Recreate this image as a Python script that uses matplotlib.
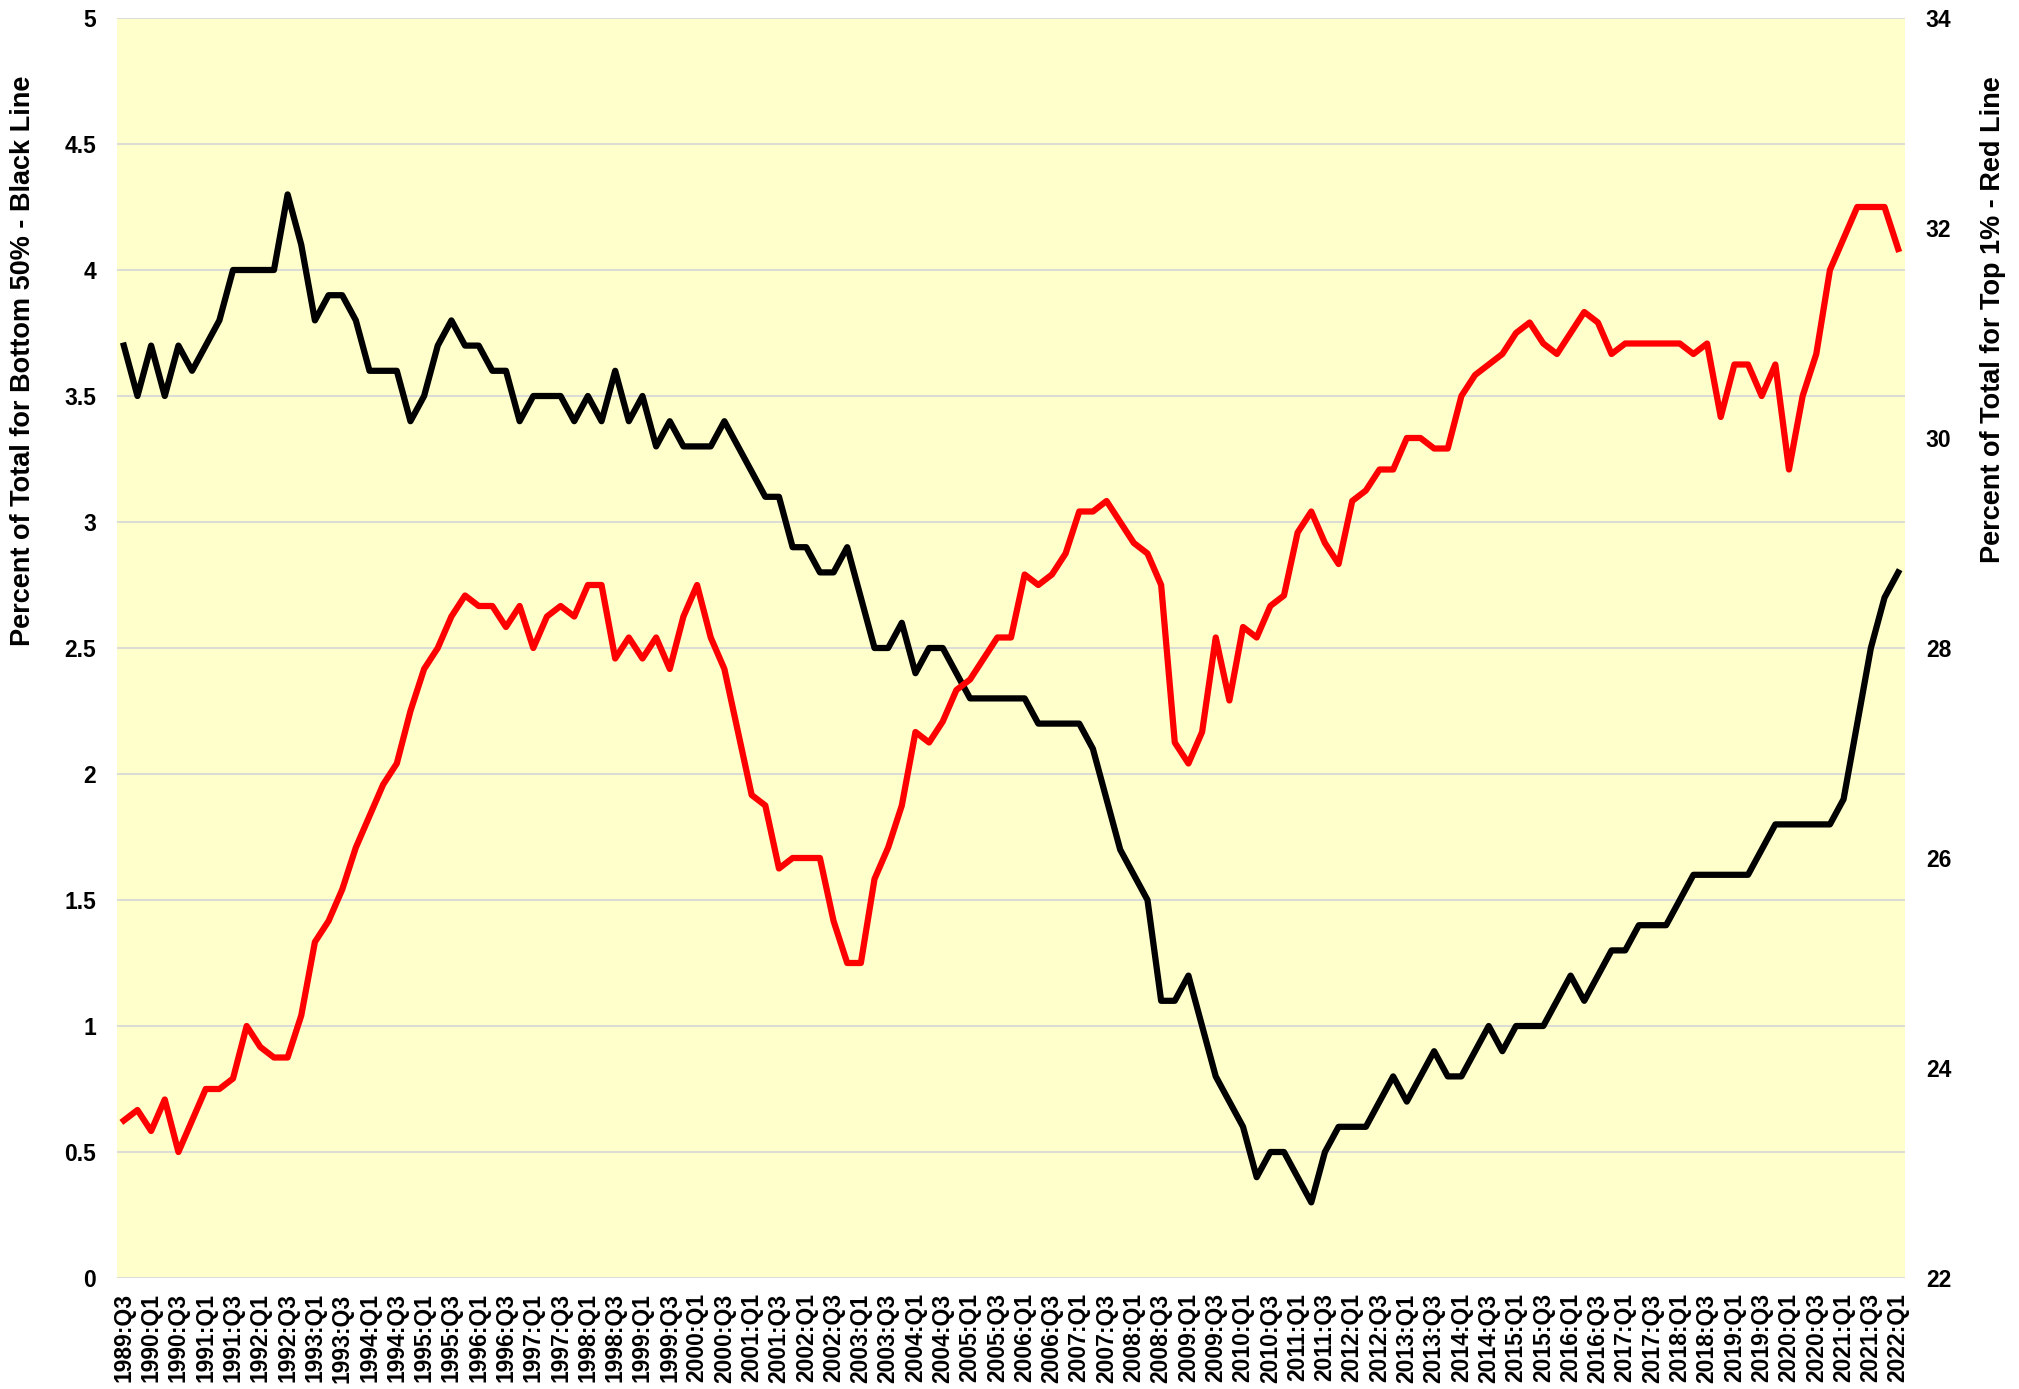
import matplotlib
matplotlib.use("Agg")
import matplotlib.pyplot as plt
from matplotlib.ticker import FuncFormatter

plt.rcParams['font.family'] = ['Liberation Sans', 'DejaVu Sans']
plt.rcParams['font.weight'] = 'bold'

# quarters 1989:Q3 .. 2022:Q1
quarters = []
for year in range(1989, 2023):
    for q in range(1, 5):
        if (year == 1989 and q < 3) or (year == 2022 and q > 1):
            continue
        quarters.append(f"{year}:Q{q}")

# share of total held by bottom 50% (left axis)
bottom50 = [
    3.7, 3.5, 3.7, 3.5, 3.7, 3.6, 3.7, 3.8, 4.0, 4.0,
    4.0, 4.0, 4.3, 4.1, 3.8, 3.9, 3.9, 3.8, 3.6, 3.6,
    3.6, 3.4, 3.5, 3.7, 3.8, 3.7, 3.7, 3.6, 3.6, 3.4,
    3.5, 3.5, 3.5, 3.4, 3.5, 3.4, 3.6, 3.4, 3.5, 3.3,
    3.4, 3.3, 3.3, 3.3, 3.4, 3.3, 3.2, 3.1, 3.1, 2.9,
    2.9, 2.8, 2.8, 2.9, 2.7, 2.5, 2.5, 2.6, 2.4, 2.5,
    2.5, 2.4, 2.3, 2.3, 2.3, 2.3, 2.3, 2.2, 2.2, 2.2,
    2.2, 2.1, 1.9, 1.7, 1.6, 1.5, 1.1, 1.1, 1.2, 1.0,
    0.8, 0.7, 0.6, 0.4, 0.5, 0.5, 0.4, 0.3, 0.5, 0.6,
    0.6, 0.6, 0.7, 0.8, 0.7, 0.8, 0.9, 0.8, 0.8, 0.9,
    1.0, 0.9, 1.0, 1.0, 1.0, 1.1, 1.2, 1.1, 1.2, 1.3,
    1.3, 1.4, 1.4, 1.4, 1.5, 1.6, 1.6, 1.6, 1.6, 1.6,
    1.7, 1.8, 1.8, 1.8, 1.8, 1.8, 1.9, 2.2, 2.5, 2.7,
    2.8,
]

# share of total held by top 1% (right axis)
top1 = [
    23.5, 23.6, 23.4, 23.7, 23.2, 23.5, 23.8, 23.8, 23.9, 24.4,
    24.2, 24.1, 24.1, 24.5, 25.2, 25.4, 25.7, 26.1, 26.4, 26.7,
    26.9, 27.4, 27.8, 28.0, 28.3, 28.5, 28.4, 28.4, 28.2, 28.4,
    28.0, 28.3, 28.4, 28.3, 28.6, 28.6, 27.9, 28.1, 27.9, 28.1,
    27.8, 28.3, 28.6, 28.1, 27.8, 27.2, 26.6, 26.5, 25.9, 26.0,
    26.0, 26.0, 25.4, 25.0, 25.0, 25.8, 26.1, 26.5, 27.2, 27.1,
    27.3, 27.6, 27.7, 27.9, 28.1, 28.1, 28.7, 28.6, 28.7, 28.9,
    29.3, 29.3, 29.4, 29.2, 29.0, 28.9, 28.6, 27.1, 26.9, 27.2,
    28.1, 27.5, 28.2, 28.1, 28.4, 28.5, 29.1, 29.3, 29.0, 28.8,
    29.4, 29.5, 29.7, 29.7, 30.0, 30.0, 29.9, 29.9, 30.4, 30.6,
    30.7, 30.8, 31.0, 31.1, 30.9, 30.8, 31.0, 31.2, 31.1, 30.8,
    30.9, 30.9, 30.9, 30.9, 30.9, 30.8, 30.9, 30.2, 30.7, 30.7,
    30.4, 30.7, 29.7, 30.4, 30.8, 31.6, 31.9, 32.2, 32.2, 32.2,
    31.8,
]

x = list(range(len(quarters)))

W, H = 2019, 1389
fig = plt.figure(figsize=(W / 100, H / 100), dpi=100)
ax = fig.add_axes([117 / W, 1 - 1278 / H, (1905 - 117) / W, (1278 - 18) / H])
ax.set_facecolor('#FFFFCC')
ax2 = ax.twinx()

ax.plot(x, bottom50, color='black', lw=4.5, solid_joinstyle='round', zorder=3)
ax2.plot(x, top1, color='#FF0000', lw=4.5, solid_joinstyle='round', zorder=3)

ax.set_xlim(-0.5, len(quarters) - 0.5)
ax.set_ylim(0, 5)
ax2.set_ylim(22, 34)
ax.set_yticks([i * 0.5 for i in range(11)])
ax2.set_yticks(range(22, 35, 2))
ax.yaxis.set_major_formatter(FuncFormatter(lambda v, p: f"{v:g}"))

ax.set_xticks(x[::2])
ax.set_xticklabels(quarters[::2], rotation=90, va='top', ha='center')

ax.grid(axis='y', color='#D9D9D9', lw=1.3)
ax.set_axisbelow(True)
for a in (ax, ax2):
    for s in a.spines.values():
        s.set_visible(False)
    a.tick_params(length=0, labelsize=16.5)
ax.tick_params(axis='y', pad=15)
ax2.tick_params(axis='y', pad=15)
ax.tick_params(axis='x', pad=11, labelsize=16.5)

# axis titles sit toward the top, as in the source chart
fig.text(23 / W, 1 - 76 / H, 'Percent of Total for Bottom 50% - Black Line',
         rotation=90, fontsize=19.5, fontweight='bold', ha='center', va='top')
fig.text(1993 / W, 1 - 76 / H, 'Percent of Total for Top 1% - Red Line',
         rotation=90, fontsize=19.5, fontweight='bold', ha='center', va='top')

fig.savefig('out.png', dpi=100)
